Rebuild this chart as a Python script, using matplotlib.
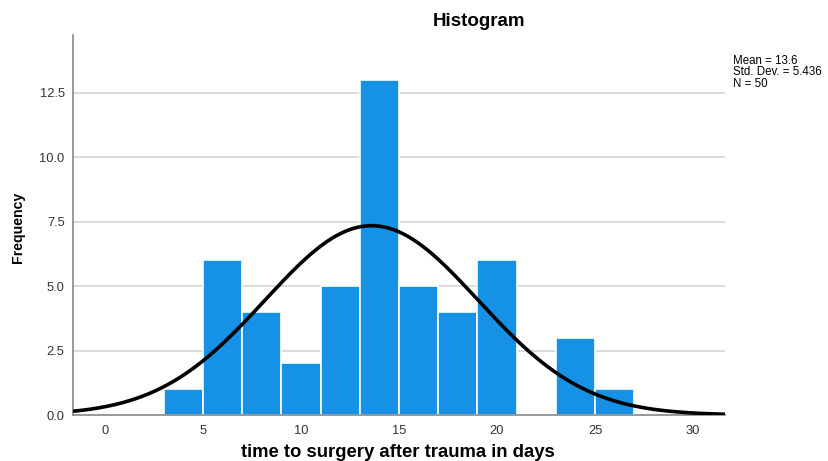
import numpy as np
import matplotlib
matplotlib.use("Agg")
import matplotlib.pyplot as plt

plt.rcParams['font.family'] = ['Liberation Sans', 'DejaVu Sans']

# Histogram bins (days) and counts
bin_edges = [3, 5, 7, 9, 11, 13, 15, 17, 19, 21, 23, 25, 27]
counts = [1, 6, 4, 2, 5, 13, 5, 4, 6, 0, 3, 1]
mean = 13.6
std_dev = 5.436
n = 50

x_ticks = [0, 5, 10, 15, 20, 25, 30]
y_ticks = [0.0, 2.5, 5.0, 7.5, 10.0, 12.5]

fig = plt.figure(figsize=(8.29, 4.61), dpi=100)
W, H = 829, 461
ax = fig.add_axes([73 / W, 1 - 415 / H, (725 - 73) / W, (415 - 35) / H])

xmin, xmax = -1.63, 31.63
ax.set_xlim(xmin, xmax)
ax.set_ylim(0, 14.73)

# grid lines
for yv in y_ticks[1:]:
    ax.axhline(yv, color='#d4d4d4', lw=1.2, zorder=0)

edges = np.array(bin_edges, dtype=float)
widths = np.diff(edges)
ax.bar(edges[:-1], counts, width=widths, align='edge', color='#1591e6',
       edgecolor='white', linewidth=1.2, zorder=2)

# normal curve scaled to counts
bw = widths[0]
xs = np.linspace(xmin, xmax, 400)
ys = n * bw / (std_dev * np.sqrt(2 * np.pi)) * np.exp(-0.5 * ((xs - mean) / std_dev) ** 2)
ax.plot(xs, ys, color='black', lw=2.6, zorder=3, solid_capstyle='butt')

ax.set_xticks(x_ticks)
ax.set_yticks(y_ticks)
ax.set_yticklabels([f"{v:.1f}" for v in y_ticks])
ax.tick_params(axis='both', length=0, labelsize=9.3, colors='#333333')
ax.tick_params(axis='x', pad=7)
ax.tick_params(axis='y', pad=6)

for s in ['top', 'right']:
    ax.spines[s].set_visible(False)
for s in ['left', 'bottom']:
    ax.spines[s].set_color('#888888')
    ax.spines[s].set_linewidth(1.2)

fig.text(479 / W, 1 - 21 / H, "Histogram", ha='center', va='center',
         fontsize=13.5, fontweight='bold')
fig.text(398 / W, 1 - 452 / H, "time to surgery after trauma in days",
         ha='center', va='center', fontsize=13.3, fontweight='bold')
fig.text(18 / W, 1 - 227 / H, "Frequency", ha='center', va='center',
         rotation=90, fontsize=10.2, fontweight='bold')
fig.text(733 / W, 1 - 55 / H,
         f"Mean = {mean}\nStd. Dev. = {std_dev}\nN = {n}",
         ha='left', va='top', fontsize=8.3, linespacing=0.92)

fig.savefig("out.png", dpi=100)
